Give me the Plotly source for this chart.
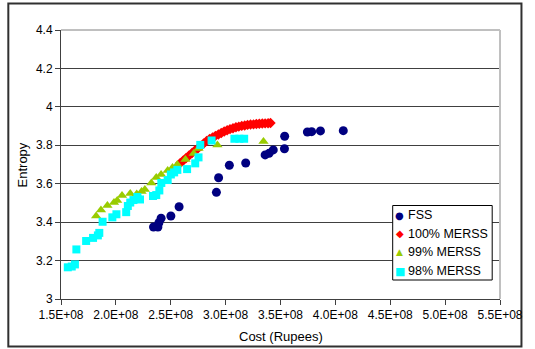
import plotly.graph_objects as go

# ---- data (cost in Rupees, entropy) ----
fss_cost = [2.343e8, 2.383e8, 2.392e8, 2.412e8, 2.501e8, 2.576e8, 2.916e8, 2.936e8,
            3.034e8, 3.183e8, 3.360e8, 3.396e8, 3.434e8, 3.536e8, 3.538e8, 3.745e8,
            3.784e8, 3.864e8, 4.072e8]
fss_entropy = [3.375, 3.375, 3.397, 3.420, 3.432, 3.480, 3.555, 3.631,
               3.696, 3.708, 3.750, 3.758, 3.776, 3.782, 3.847, 3.869,
               3.871, 3.875, 3.876]

m100_cost = [2.587e8, 2.614e8, 2.640e8, 2.667e8, 2.694e8, 2.720e8, 2.747e8, 2.774e8,
             2.800e8, 2.827e8, 2.854e8, 2.881e8, 2.907e8, 2.934e8, 2.960e8, 2.987e8,
             3.014e8, 3.040e8, 3.067e8, 3.094e8, 3.120e8, 3.147e8, 3.174e8, 3.200e8,
             3.227e8, 3.254e8, 3.280e8, 3.307e8, 3.334e8, 3.360e8, 3.387e8, 3.409e8]
m100_entropy = [3.708, 3.721, 3.734, 3.747, 3.760, 3.773, 3.783, 3.796,
                3.809, 3.822, 3.833, 3.841, 3.849, 3.856, 3.864, 3.872,
                3.878, 3.884, 3.889, 3.894, 3.897, 3.901, 3.903, 3.906,
                3.908, 3.909, 3.911, 3.912, 3.913, 3.914, 3.915, 3.916]

m99_cost = [1.820e8, 1.864e8, 1.923e8, 1.983e8, 2.012e8, 2.056e8, 2.131e8, 2.190e8,
            2.234e8, 2.264e8, 2.323e8, 2.368e8, 2.412e8, 2.472e8, 2.516e8, 2.560e8,
            2.634e8, 2.709e8, 2.753e8, 2.925e8, 3.345e8]
m99_entropy = [3.432, 3.463, 3.487, 3.502, 3.513, 3.539, 3.549, 3.547,
               3.560, 3.570, 3.604, 3.632, 3.648, 3.669, 3.685, 3.700,
               3.726, 3.757, 3.783, 3.802, 3.820]

m98_cost = [1.562e8, 1.598e8, 1.627e8, 1.640e8, 1.729e8, 1.792e8, 1.836e8, 1.849e8,
            1.879e8, 1.968e8, 2.005e8, 2.094e8, 2.109e8, 2.131e8, 2.160e8, 2.196e8,
            2.220e8, 2.338e8, 2.368e8, 2.396e8, 2.414e8, 2.472e8, 2.501e8, 2.531e8,
            2.560e8, 2.649e8, 2.723e8, 2.753e8, 2.769e8, 2.872e8, 3.080e8, 3.125e8,
            3.169e8]
m98_entropy = [3.165, 3.169, 3.180, 3.258, 3.302, 3.318, 3.331, 3.344,
               3.402, 3.425, 3.441, 3.452, 3.484, 3.502, 3.515, 3.531,
               3.518, 3.536, 3.541, 3.565, 3.604, 3.619, 3.648, 3.659,
               3.672, 3.676, 3.706, 3.737, 3.802, 3.825, 3.834, 3.834,
               3.834]

series_names = ["FSS", "100% MERSS", "99% MERSS", "98% MERSS"]

x_tickvals = [1.5e8, 2.0e8, 2.5e8, 3.0e8, 3.5e8, 4.0e8, 4.5e8, 5.0e8, 5.5e8]
x_ticktext = ["1.5E+08", "2.0E+08", "2.5E+08", "3.0E+08", "3.5E+08",
              "4.0E+08", "4.5E+08", "5.0E+08", "5.5E+08"]
y_tickvals = [3.0, 3.2, 3.4, 3.6, 3.8, 4.0, 4.2, 4.4]
y_ticktext = ["3", "3.2", "3.4", "3.6", "3.8", "4", "4.2", "4.4"]

FONT = "Liberation Sans, Arial, sans-serif"
W, H = 535, 349
ML, MR, MT, MB = 61, 24, 30, 50
PW, PH = W - ML - MR, H - MT - MB


def px_x(px):
    return (px - ML) / PW


def px_y(py):
    return (H - MB - py) / PH


styles = [
    dict(symbol="circle", size=9, color="#000080", glyph="\u25CF", gsize=10),
    dict(symbol="diamond", size=8, color="#FF0000", glyph="\u25C6", gsize=10),
    dict(symbol="triangle-up", size=9, color="#99CC00", glyph="\u25B2", gsize=9),
    dict(symbol="square", size=8, color="#00FFFF", glyph="\u25A0", gsize=11),
]
data = [(fss_cost, fss_entropy), (m100_cost, m100_entropy),
        (m99_cost, m99_entropy), (m98_cost, m98_entropy)]

fig = go.Figure()
for name, (xs, ys), st in zip(series_names, data, styles):
    fig.add_trace(go.Scatter(x=xs, y=ys, mode="markers", name=name,
                             marker=dict(symbol=st["symbol"], size=st["size"],
                                         color=st["color"])))

# Excel-style compact legend: box + symbol glyphs + labels
legend_rows = [215, 233.7, 252.3, 271]
annotations = [
    dict(text="Entropy", xref="paper", yref="paper", x=px_x(22), y=0.5,
         textangle=-90, showarrow=False, xanchor="center", yanchor="middle",
         font=dict(family=FONT, size=13)),
    dict(text="Cost (Rupees)", xref="paper", yref="paper", x=0.5, y=px_y(336.5),
         showarrow=False, xanchor="center", yanchor="middle",
         font=dict(family=FONT, size=13)),
]
for name, st, ry in zip(series_names, styles, legend_rows):
    annotations.append(dict(text=st["glyph"], xref="paper", yref="paper",
                            x=px_x(408), y=px_y(ry), showarrow=False,
                            xanchor="center", yanchor="middle",
                            font=dict(family="DejaVu Sans", size=st["gsize"],
                                      color=st["color"])))
    annotations.append(dict(text=name, xref="paper", yref="paper",
                            x=px_x(415), y=px_y(ry), showarrow=False,
                            xanchor="left", yanchor="middle",
                            font=dict(family=FONT, size=12.5, color="black")))

fig.update_layout(
    width=W, height=H,
    margin=dict(l=ML, r=MR, t=MT, b=MB),
    paper_bgcolor="white", plot_bgcolor="white",
    font=dict(family=FONT, size=12, color="black"),
    showlegend=False,
    xaxis=dict(range=[1.5e8, 5.5e8], tickvals=x_tickvals, ticktext=x_ticktext,
               showgrid=False, zeroline=False, ticks="outside", ticklen=5,
               tickcolor="#404040", showline=True, linecolor="#404040", linewidth=1,
               mirror=False, tickfont=dict(size=12)),
    yaxis=dict(range=[3.0, 4.4], tickvals=y_tickvals, ticktext=y_ticktext,
               showgrid=True, gridcolor="#404040", gridwidth=1, zeroline=False,
               ticks="outside", ticklen=5, tickcolor="#404040",
               showline=True, linecolor="#404040", linewidth=1,
               tickfont=dict(size=12)),
    shapes=[
        dict(type="line", xref="paper", yref="paper", x0=0, x1=1, y0=1, y1=1,
             line=dict(color="#808080", width=1)),
        dict(type="line", xref="paper", yref="paper", x0=1, x1=1, y0=0, y1=1,
             line=dict(color="#C0C0C0", width=2)),
        dict(type="rect", xref="paper", yref="paper", x0=px_x(7), x1=px_x(533),
             y0=px_y(346.5), y1=px_y(3.5), line=dict(color="#303030", width=2),
             fillcolor="rgba(0,0,0,0)", layer="below"),
        # legend box
        dict(type="rect", xref="paper", yref="paper", x0=px_x(401), x1=px_x(503),
             y0=px_y(280), y1=px_y(205.5), line=dict(color="black", width=1),
             fillcolor="white", layer="above"),
    ],
    annotations=annotations,
)

fig.write_html("out.html")
